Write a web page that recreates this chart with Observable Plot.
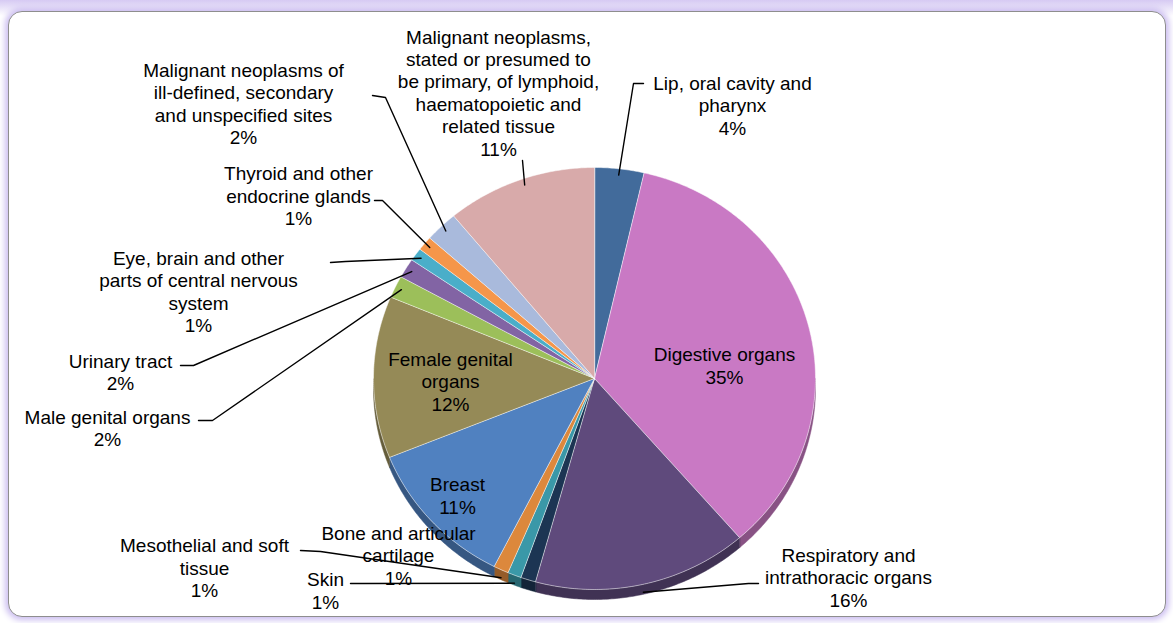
<!DOCTYPE html>
<html><head><meta charset="utf-8">
<script src="https://cdn.jsdelivr.net/npm/d3@7"></script>
<script src="https://cdn.jsdelivr.net/npm/@observablehq/plot@0.6"></script>
<style>
body{margin:0;background:#fff;}
#wrap{position:relative;width:1173px;height:623px;overflow:hidden;background:linear-gradient(#d6caf3,#fff 16px);}
#frame{position:absolute;left:8px;top:11px;width:1156px;height:604px;border:1.5px solid #8e8e8e;border-radius:14px;background:#fff;box-shadow:0 0 6px 3px #cbbdf0;}
#chart{position:absolute;left:0;top:0;}
</style></head><body>
<div id="wrap"><div id="frame"></div><div id="chart"></div></div>
<script>
// ---- data ----
const categories = [
  "Lip, oral cavity and pharynx",
  "Digestive organs",
  "Respiratory and intrathoracic organs",
  "Bone and articular cartilage",
  "Skin",
  "Mesothelial and soft tissue",
  "Breast",
  "Female genital organs",
  "Male genital organs",
  "Urinary tract",
  "Eye, brain and other parts of central nervous system",
  "Thyroid and other endocrine glands",
  "Malignant neoplasms of ill-defined, secondary and unspecified sites",
  "Malignant neoplasms, stated or presumed to be primary, of lymphoid, haematopoietic and related tissue"
];
const wrappedNames = [
  "Lip, oral cavity and\npharynx",
  "Digestive organs",
  "Respiratory and\nintrathoracic organs",
  "Bone and articular\ncartilage",
  "Skin",
  "Mesothelial and soft\ntissue",
  "Breast",
  "Female genital\norgans",
  "Male genital organs",
  "Urinary tract",
  "Eye, brain and other\nparts of central nervous\nsystem",
  "Thyroid and other\nendocrine glands",
  "Malignant neoplasms of\nill-defined, secondary\nand unspecified sites",
  "Malignant neoplasms,\nstated or presumed to\nbe primary, of lymphoid,\nhaematopoietic and\nrelated tissue"
];
const values = [3.6, 35.0, 15.7, 1.1, 1.0, 1.1, 11.4, 12.4, 1.7, 1.5, 1.0, 1.1, 2.4, 11.0];
const pctLabels = ["4%", "35%", "16%", "1%", "1%", "1%", "11%", "12%", "2%", "2%", "1%", "1%", "2%", "11%"];
const colors = ["#426b9b", "#c979c4", "#5f4a7c", "#1c3553", "#3a98a8", "#dc883c", "#5081c0",
                "#958a57", "#9cbf5a", "#8264a4", "#4aaec9", "#f5964a", "#a9badc", "#d8aaaa"];

// ---- layout (pixels) ----
const CX = 594, CY = 378, RX = 221, RY = 211, DEPTH = 10;
const labelLayout = [
  {x: 732, y: 104.5, lead: [[643, 83], [633, 83]]},
  {x: 724, y: 365, lead: null},
  {x: 848, y: 576.5, lead: [[758, 583], [748, 583]], side: true},
  {x: 398, y: 554.5, lead: null},
  {x: 325, y: 590, lead: [[350, 583], [362, 583]], side: true},
  {x: 204, y: 567, lead: [[300, 550], [320, 551]], side: true},
  {x: 457, y: 495, lead: null},
  {x: 450, y: 380.5, lead: null},
  {x: 107, y: 427.5, lead: [[198, 420], [212, 420]]},
  {x: 120, y: 371.5, lead: [[180, 365], [193, 365]]},
  {x: 198, y: 291, lead: [[330, 262], [345, 261]]},
  {x: 298, y: 195, lead: [[374, 200], [382, 200]]},
  {x: 243, y: 103, lead: [[372, 95], [385, 97]]},
  {x: 498, y: 92, lead: [[522, 160]], f: 0.52}
];
const ux = p => (p - CX) / RX, uy = p => (CY - p) / RY;

// ---- geometry from values ----
const arcs = d3.pie().sort(null).value(d => d)(values);
const faces = [], sides = [], leaders = [], labels = [];
arcs.forEach((a, i) => {
  const n = Math.max(6, Math.ceil((a.endAngle - a.startAngle) / 0.01));
  faces.push({k: i, x: 0, y: 0, c: colors[i]});
  for (let j = 0; j <= n; j++) {
    const t = a.startAngle + (a.endAngle - a.startAngle) * j / n;
    faces.push({k: i, x: Math.sin(t), y: Math.cos(t), c: colors[i]});
  }
  const s0 = Math.max(a.startAngle, Math.PI / 2), s1 = Math.min(a.endAngle, 3 * Math.PI / 2);
  if (s1 > s0) {
    const m = Math.max(4, Math.ceil((s1 - s0) / 0.01));
    const top = [];
    for (let j = 0; j <= m; j++) { const t = s0 + (s1 - s0) * j / m; top.push([Math.sin(t), Math.cos(t)]); }
    const dc = d3.color(colors[i]).darker(1.1).formatHex();
    top.forEach(p => sides.push({k: i, x: p[0], y: p[1], c: dc}));
    top.slice().reverse().forEach(p => sides.push({k: i, x: p[0], y: p[1] - DEPTH / RY, c: dc}));
  }
  const L = labelLayout[i];
  labels.push({x: ux(L.x), y: uy(L.y), text: wrappedNames[i] + "\n" + pctLabels[i]});
  if (L.lead) {
    L.lead.forEach(p => leaders.push({k: i, x: ux(p[0]), y: uy(p[1])}));
    const f = L.f ?? 0.5;
    const t = a.startAngle + (a.endAngle - a.startAngle) * f;
    const r = L.side ? 1 : 0.97;
    leaders.push({k: i, x: r * Math.sin(t), y: r * Math.cos(t) - (L.side ? DEPTH * 0.8 / RY : 0)});
  }
});

const chart = Plot.plot({
  width: 1173, height: 623, margin: 0,
  style: {background: "transparent"},
  x: {domain: [-1, 1], range: [CX - RX, CX + RX], axis: null},
  y: {domain: [-1, 1], range: [CY + RY, CY - RY], axis: null},
  color: {type: "identity"},
  marks: [
    Plot.line(sides, {x: "x", y: "y", z: "k", fill: "c", stroke: "c", strokeWidth: 0.5, curve: "linear-closed"}),
    Plot.line(faces, {x: "x", y: "y", z: "k", fill: "c", stroke: "#ffffff", strokeOpacity: 0.55, strokeWidth: 0.9, curve: "linear-closed"}),
    Plot.line(leaders, {x: "x", y: "y", z: "k", stroke: "#000", strokeWidth: 1.4}),
    Plot.text(labels, {x: "x", y: "y", text: "text", fontSize: 19, lineHeight: 1.18, lineAnchor: "middle",
      fontFamily: "'Liberation Sans', Arial, sans-serif", fill: "#000"})
  ]
});
document.getElementById("chart").appendChild(chart);
</script>
</body></html>
